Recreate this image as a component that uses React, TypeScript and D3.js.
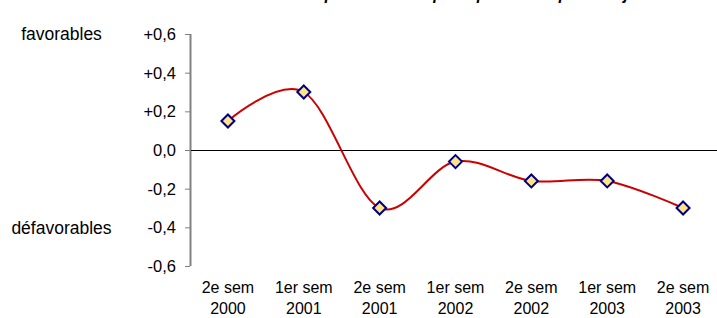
import React from "react";
import * as d3 from "d3";

const periods = ["2e sem", "1er sem", "2e sem", "1er sem", "2e sem", "1er sem", "2e sem"];
const years = ["2000", "2001", "2001", "2002", "2002", "2003", "2003"];
const values = [0.15, 0.3, -0.3, -0.06, -0.16, -0.16, -0.3];
const yTicks = [0.6, 0.4, 0.2, 0, -0.2, -0.4, -0.6];
const titleText = "Evolution des opinions sur la politique de l'emploi des jeunes";

const fmt = (v: number) => {
  const s = Math.abs(v).toFixed(1).replace(".", ",");
  if (v > 0.0001) return "+" + s;
  if (v < -0.0001) return "-" + s;
  return s;
};

export default function App() {
  const width = 717;
  const height = 318;
  const keys = values.map((_, i) => String(i));

  const x = d3.scaleBand<string>().domain(keys).range([190, 721]);
  const y = d3.scaleLinear().domain([-0.6, 0.6]).range([266, 34]);
  const cx = (i: number) => (x(String(i)) ?? 0) + x.bandwidth() / 2;

  const line = d3
    .line<number>()
    .x((_, i) => cx(i))
    .y((d) => y(d))
    .curve(d3.curveCardinal.tension(0));

  const font = "Liberation Sans, Arial, sans-serif";

  return (
    <svg
      width={width}
      height={height}
      style={{ position: "absolute", left: 0, top: 0, background: "#fff" }}
      fontFamily={font}
    >
      {/* title, mostly above the visible area as in the original */}
      <text x={440} y={-0.5} textAnchor="middle" fontSize={16} fontWeight="bold" fontStyle="italic">
        {titleText}
      </text>

      {/* y axis */}
      <line x1={190.5} x2={190.5} y1={y(0.6)} y2={y(-0.6)} stroke="#808080" strokeWidth={2} />
      {yTicks.map((t) => (
        <g key={t}>
          <line x1={185} x2={190} y1={y(t) + 0.5} y2={y(t) + 0.5} stroke="#808080" />
          <text x={176} y={y(t)} dy="0.36em" textAnchor="end" fontSize={16.5}>
            {fmt(t)}
          </text>
        </g>
      ))}
      <line x1={191} x2={width} y1={y(0) + 0.5} y2={y(0) + 0.5} stroke="#000" />

      <text x={61.5} y={y(0.6)} dy="0.36em" textAnchor="middle" fontSize={17.5}>
        favorables
      </text>
      <text x={61.5} y={y(-0.4)} dy="0.36em" textAnchor="middle" fontSize={17.5}>
        défavorables
      </text>

      {/* x labels */}
      {periods.map((p, i) => (
        <g key={i}>
          <text x={cx(i)} y={293} textAnchor="middle" fontSize={16}>
            {p}
          </text>
          <text x={cx(i)} y={313.5} textAnchor="middle" fontSize={16}>
            {years[i]}
          </text>
        </g>
      ))}

      <path d={line(values) ?? ""} fill="none" stroke="#CC0000" strokeWidth={2} />

      {values.map((v, i) => {
        const px = cx(i);
        const py = y(v);
        const r = 6.5;
        return (
          <path
            key={i}
            d={`M${px},${py - r}L${px + r},${py}L${px},${py + r}L${px - r},${py}Z`}
            fill="#FFE38A"
            stroke="#000080"
            strokeWidth={2}
          />
        );
      })}
    </svg>
  );
}
